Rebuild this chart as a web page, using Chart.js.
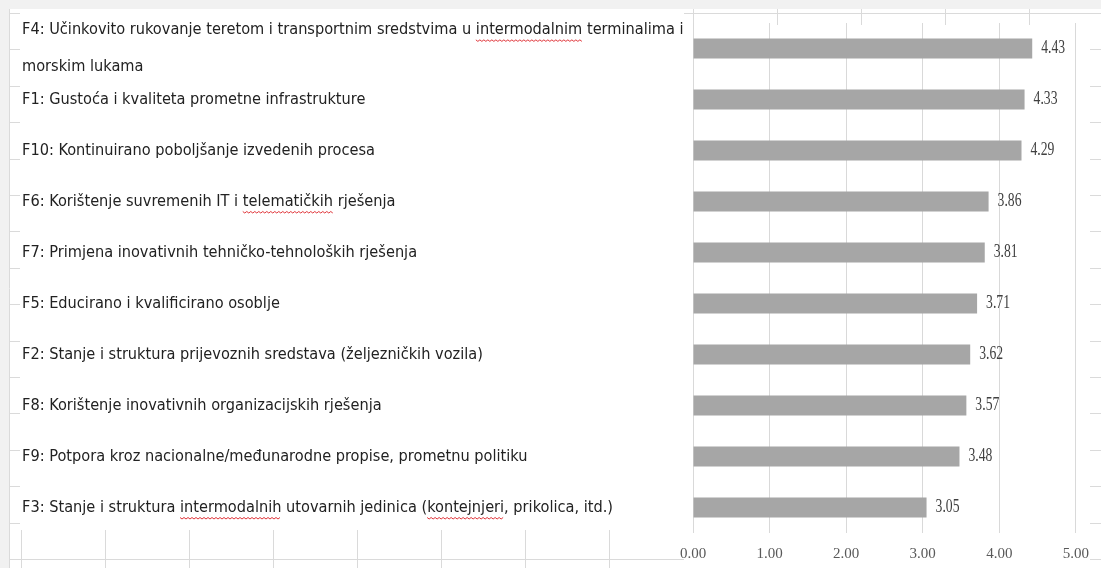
<!DOCTYPE html>
<html>
<head>
<meta charset="utf-8">
<script src="https://cdn.jsdelivr.net/npm/chart.js@4.4.1/dist/chart.umd.min.js"></script>
<style>
  html, body { margin: 0; padding: 0; background: #fff; }
  canvas { display: block; }
</style>
</head>
<body>
<canvas id="chart" width="1101" height="568"></canvas>
<script>
// factors, top to bottom as in the picture
const categories = [
  ['F4: Učinkovito rukovanje teretom i transportnim sredstvima u intermodalnim terminalima i', 'morskim lukama'],
  'F1: Gustoća i kvaliteta prometne infrastrukture',
  'F10: Kontinuirano poboljšanje izvedenih procesa',
  'F6: Korištenje suvremenih IT i telematičkih rješenja',
  'F7: Primjena inovativnih tehničko-tehnoloških rješenja',
  'F5: Educirano i kvalificirano osoblje',
  'F2: Stanje i struktura prijevoznih sredstava (željezničkih vozila)',
  'F8: Korištenje inovativnih organizacijskih rješenja',
  'F9: Potpora kroz nacionalne/međunarodne propise, prometnu politiku',
  'F3: Stanje i struktura intermodalnih utovarnih jedinica (kontejnjeri, prikolica, itd.)'
];
const scores = [4.43, 4.33, 4.29, 3.86, 3.81, 3.71, 3.62, 3.57, 3.48, 3.05];
const xTicks = [0, 1, 2, 3, 4, 5];

// words with the red spell-check underline
const squiggles = [
  { row: 0, line: 0, word: 'intermodalnim' },
  { row: 3, line: 0, word: 'telematičkih' },
  { row: 9, line: 0, word: 'intermodalnih' },
  { row: 9, line: 0, word: 'kontejnjeri' }
];

const labelFont = { family: '"DejaVu Sans Condensed", "Liberation Sans", Arial, sans-serif', size: 16.2, lineHeight: 2.3 };

// spreadsheet cells behind the text box and the chart
const sheetBackground = {
  id: 'sheetBackground',
  beforeDraw(chart) {
    const ctx = chart.ctx;
    const W = chart.width, H = chart.height;
    ctx.save();
    ctx.fillStyle = '#fff';
    ctx.fillRect(0, 0, W, H);
    ctx.fillStyle = '#f1f1f1';
    ctx.fillRect(0, 0, W, 9);
    ctx.fillRect(0, 0, 9, H);
    ctx.strokeStyle = '#dadada';
    ctx.lineWidth = 1;
    ctx.beginPath();
    for (let x = 21; x < W; x += 84) {
      ctx.moveTo(x + 0.5, 9);
      ctx.lineTo(x + 0.5, H);
    }
    for (let y = 13; y < H; y += 36.4) {
      ctx.moveTo(9, Math.round(y) + 0.5);
      ctx.lineTo(W, Math.round(y) + 0.5);
    }
    ctx.moveTo(9.5, 9);
    ctx.lineTo(9.5, H);
    ctx.stroke();
    ctx.fillStyle = '#fff';
    ctx.fillRect(20, 9, 664, 521);   // text box
    ctx.fillRect(684, 25, 406, H - 25); // chart object
    ctx.restore();
  }
};

const valueLabels = {
  id: 'valueLabels',
  afterDatasetsDraw(chart) {
    const ctx = chart.ctx;
    const meta = chart.getDatasetMeta(0);
    meta.data.forEach((bar, i) => {
      ctx.save();
      ctx.translate(bar.x + 9, bar.y);
      ctx.scale(0.72, 1);
      ctx.font = '19px "Liberation Serif", "Times New Roman", serif';
      ctx.fillStyle = '#404040';
      ctx.textBaseline = 'middle';
      ctx.textAlign = 'left';
      ctx.fillText(scores[i].toFixed(2), 0, 0);
      ctx.restore();
    });
  }
};

const spellMarks = {
  id: 'spellMarks',
  afterDraw(chart) {
    const ctx = chart.ctx;
    const yScale = chart.scales.y;
    const lh = labelFont.size * labelFont.lineHeight;
    ctx.save();
    ctx.font = labelFont.size + 'px ' + labelFont.family;
    ctx.strokeStyle = '#e0353a';
    ctx.lineWidth = 1;
    squiggles.forEach(s => {
      const lab = categories[s.row];
      const lines = Array.isArray(lab) ? lab : [lab];
      const text = lines[s.line];
      const idx = text.indexOf(s.word);
      const x0 = yScale.left + ctx.measureText(text.slice(0, idx)).width;
      const w = ctx.measureText(s.word).width;
      const center = yScale.getPixelForTick(s.row);
      const lineY = center - (lines.length - 1) * lh / 2 + s.line * lh;
      const y = lineY + 10;
      ctx.beginPath();
      for (let x = 0; x <= w; x += 2) {
        const yy = y + ((x / 2) % 2 === 0 ? 0 : 1.5);
        if (x === 0) ctx.moveTo(x0 + x, yy); else ctx.lineTo(x0 + x, yy);
      }
      ctx.stroke();
    });
    ctx.restore();
  }
};

new Chart(document.getElementById('chart'), {
  type: 'bar',
  data: {
    labels: categories,
    datasets: [{
      data: scores,
      backgroundColor: '#a6a6a6',
      borderWidth: 0,
      barPercentage: 0.39,
      categoryPercentage: 1
    }]
  },
  options: {
    indexAxis: 'y',
    responsive: false,
    animation: false,
    devicePixelRatio: 1,
    layout: { padding: { left: 22, right: 21, top: 23, bottom: 4 } },
    plugins: { legend: { display: false }, tooltip: { enabled: false } },
    scales: {
      x: {
        min: 0,
        max: 5,
        afterBuildTicks(scale) {
          scale.ticks = xTicks.map(v => ({ value: v }));
        },
        afterFit(scale) { scale.height = 31; },
        ticks: {
          callback: v => Number(v).toFixed(2),
          color: '#595959',
          padding: 12,
          font: { family: '"Liberation Serif", "Times New Roman", serif', size: 15 }
        },
        grid: { color: '#d9d9d9', drawTicks: false },
        border: { display: false }
      },
      y: {
        afterFit(scale) {
          scale.width = 671;
          scale.paddingTop = 0;
          scale.paddingBottom = 0;
        },
        ticks: {
          crossAlign: 'far',
          color: '#222',
          font: labelFont,
          autoSkip: false
        },
        grid: { display: false },
        border: { display: false }
      }
    }
  },
  plugins: [sheetBackground, valueLabels, spellMarks]
});
</script>
</body>
</html>
